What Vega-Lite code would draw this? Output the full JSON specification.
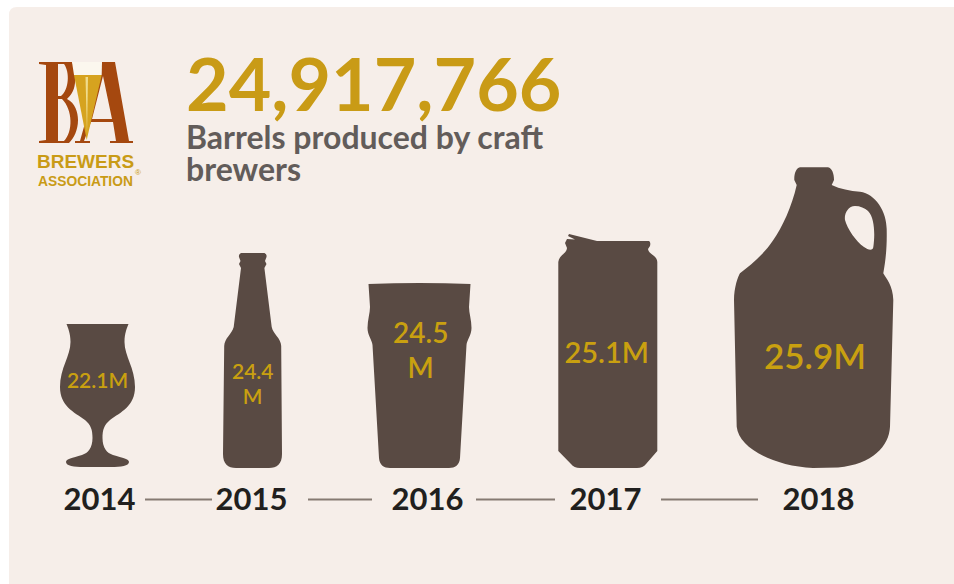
{
  "$schema": "https://vega.github.io/schema/vega-lite/v6.json",
  "width": 954,
  "height": 584,
  "padding": 0,
  "autosize": "none",
  "background": "#ffffff",
  "view": {"stroke": null},
  "title": {
    "text": "24,917,766",
    "subtitle": ["Barrels produced by craft", "brewers"],
    "anchor": "start",
    "frame": "group",
    "dx": 186,
    "dy": 188,
    "offset": 0,
    "font": "Lato",
    "fontSize": 73.5,
    "fontWeight": 700,
    "color": "#c99b16",
    "subtitleFont": "Lato",
    "subtitleFontSize": 32,
    "subtitleFontWeight": 700,
    "subtitleColor": "#625c5a",
    "subtitleLineHeight": 32,
    "subtitlePadding": -2
  },
  "data": {
    "values": [
      {"year": 2014, "value": 22.1, "vessel": "tulip glass"},
      {"year": 2015, "value": 24.4, "vessel": "bottle"},
      {"year": 2016, "value": 24.5, "vessel": "pint"},
      {"year": 2017, "value": 25.1, "vessel": "can"},
      {"year": 2018, "value": 25.9, "vessel": "growler"}
    ]
  },
  "encoding": {
    "x": {
      "field": "year",
      "type": "quantitative",
      "scale": {"domain": [2014, 2015, 2016, 2017, 2018], "range": [99, 251, 427, 605, 818]},
      "axis": {
        "values": [2014, 2015, 2016, 2017, 2018],
        "format": "d",
        "title": null,
        "grid": false,
        "domain": false,
        "ticks": false,
        "offset": -84,
        "zindex": 1,
        "labelPadding": 0,
        "labelBaseline": "middle",
        "labelFont": "Lato",
        "labelFontSize": 31,
        "labelFontWeight": 700,
        "labelColor": "#211f1e",
        "labelFlush": false,
        "labelOverlap": false
      }
    },
    "y": {
      "datum": 0,
      "type": "quantitative",
      "scale": {"domain": [0, 1], "range": [468, 467]},
      "axis": null
    }
  },
  "layer": [
    {
      "description": "Rounded cream panel behind everything",
      "data": {"values": [{"year": 2014, "panel": "background"}]},
      "mark": {"type": "point", "filled": true, "opacity": 1, "size": 4, "color": "#f6eee9"},
      "encoding": {
        "shape": {
          "field": "panel",
          "type": "nominal",
          "legend": null,
          "scale": {"domain": ["background"], "range": ["M -90 -453 Q -90 -461 -82 -461 L 870 -461 L 870 130 L -90 130 Z"]}
        }
      }
    },
    {
      "description": "Brewers Association mark",
      "data": {
        "values": [
          {"year": 2014, "part": "B"},
          {"year": 2014, "part": "A"},
          {"year": 2014, "part": "beer"},
          {"year": 2014, "part": "highlight"},
          {"year": 2014, "part": "foam"}
        ]
      },
      "mark": {"type": "point", "filled": true, "opacity": 1, "size": 4},
      "encoding": {
        "shape": {
          "field": "part",
          "type": "nominal",
          "legend": null,
          "scale": {
            "domain": ["B", "A", "beer", "highlight", "foam"],
            "range": [
              "M -60 -406 L -27 -406 C -24 -400 -23 -392 -24 -385 C -25 -376 -29 -372 -32 -369 C -24 -365 -21 -356 -21 -348 C -21 -338 -25 -330 -30 -325 L -60 -325 L -60 -327 L -53 -328 L -53 -403 L -60 -404 Z M -41 -404 L -41 -372 L -38 -372 C -30 -378 -29 -396 -35 -404 Z M -41 -369 L -41 -327 L -35 -327 C -26 -336 -26 -358 -37 -369 Z",
              "M 3 -406 L 16 -406 L 30 -327 L 34 -327 L 34 -325 L 11 -325 L 11 -327 L 17 -327 L 14 -346 L -8 -346 L -15 -327 L -9 -327 L -9 -325 L -24 -325 L -24 -327 L -19 -327 Z M 4 -392 L -7 -349 L 13 -349 Z",
              "M -25 -393 L 2.7 -393 L -12.3 -328 Z",
              "M -13.5 -391 L -11 -391 L -12 -334 Z",
              "M -27 -406 L 3 -406 L 2.7 -393 L -25 -393 Z"
            ]
          }
        },
        "color": {
          "field": "part",
          "type": "nominal",
          "legend": null,
          "scale": {
            "domain": ["B", "A", "beer", "highlight", "foam"],
            "range": ["#a5480f", "#a5480f", "#d6a31f", "#f0dc8c", "#fbf7ee"]
          }
        }
      }
    },
    {
      "data": {"values": [{"year": 2014, "t": "BREWERS"}]},
      "mark": {"type": "text", "font": "Liberation Sans", "fontWeight": "bold", "fontSize": 19, "color": "#c99b16", "dx": -13.5, "dy": -306, "baseline": "middle", "align": "center"},
      "encoding": {"text": {"field": "t"}}
    },
    {
      "data": {"values": [{"year": 2014, "t": "ASSOCIATION"}]},
      "mark": {"type": "text", "font": "Liberation Sans", "fontWeight": "bold", "fontSize": 13.8, "color": "#c99b16", "dx": -13.5, "dy": -286, "baseline": "middle", "align": "center"},
      "encoding": {"text": {"field": "t"}}
    },
    {
      "data": {"values": [{"year": 2014, "t": "®"}]},
      "mark": {"type": "text", "font": "Liberation Sans", "fontSize": 8, "color": "#c99b16", "dx": 39, "dy": -295, "baseline": "middle", "align": "center"},
      "encoding": {"text": {"field": "t"}}
    },
    {
      "description": "Rules joining neighbouring year labels",
      "transform": [{"filter": "datum.year < 2018"}],
      "mark": {"type": "point", "filled": true, "opacity": 1, "size": 4, "color": "#857a72"},
      "encoding": {
        "shape": {
          "field": "year",
          "type": "nominal",
          "legend": null,
          "scale": {
            "domain": [2014, 2015, 2016, 2017],
            "range": [
              "M 46 30.5 L 113 30.5 L 113 32.5 L 46 32.5 Z",
              "M 57 30.5 L 121 30.5 L 121 32.5 L 57 32.5 Z",
              "M 49 30.5 L 128 30.5 L 128 32.5 L 49 32.5 Z",
              "M 56 30.5 L 153 30.5 L 153 32.5 L 56 32.5 Z"
            ]
          }
        }
      }
    },
    {
      "description": "One drinking vessel per year",
      "mark": {"type": "point", "filled": true, "opacity": 1, "size": 4, "color": "#594a43"},
      "encoding": {
        "shape": {
          "field": "vessel",
          "type": "nominal",
          "legend": null,
          "scale": {
            "domain": ["tulip glass", "bottle", "pint", "can", "growler"],
            "range": [
              "M -32.5 -144 L 29.5 -144 C 28 -140 25.5 -135 25.5 -126 C 25.5 -112 36 -100 36 -81 C 36 -62 22 -56 11 -48 C 5 -43 3.5 -38 3.5 -30 C 3.5 -20 8 -15 14 -13 C 24 -10 30 -9 30 -6 C 30 -2 22 -1 12 -1 L -15 -1 C -25 -1 -33 -2 -33 -6 C -33 -9 -27 -10 -17 -13 C -11 -15 -6.5 -20 -6.5 -30 C -6.5 -38 -8 -43 -14 -48 C -25 -56 -39 -62 -39 -81 C -39 -100 -28.5 -112 -28.5 -126 C -28.5 -135 -31 -140 -32.5 -144 Z",
              "M -10 -215 L 13.5 -215 Q 16 -214 15.5 -211 L 14 -207 L 15.5 -204 L 13.4 -200 L 20.7 -141 C 22 -134 30 -130 30.2 -122 L 31 -14 C 31 -4 26 0 18 0 L -15 0 C -23 0 -28 -4 -28 -14 L -26.8 -122 C -26.5 -130 -19 -134 -17.3 -141 L -10 -200 L -12 -204 L -10.5 -207 L -12 -211 Q -12.5 -214 -10 -215 Z",
              "M -58.5 -184 Q -7.5 -186 43.5 -184 L 42 -161 C 42 -155 44.5 -148 44.5 -140 C 44.5 -133 40 -128 39.5 -123 L 33 -10 C 32.5 -3 28 0 22 0 L -37 0 C -43 0 -47.5 -3 -48 -10 L -54.5 -123 C -55 -128 -59.5 -133 -59.5 -140 C -59.5 -148 -57 -155 -57 -161 Z",
              "M -36 -234 L -8 -227 L 44 -227 Q 46 -226 45 -222 L 43 -219 C 44 -213 52 -213 52.3 -206 L 52.3 -17 L 41 -4 Q 38 0 32 0 L -25 0 Q -31 0 -34 -4 L -46.7 -17 L -46.7 -206 C -46 -213 -38.5 -214 -38 -220 L -40 -225 L -38 -229 L -30 -228.5 L -37 -232 Z",
              "M -18 -300.7 L 10 -300.7 C 14 -300 16 -294 16 -288 L 13.7 -283 C 22 -279 32 -277 42 -276.3 C 58 -274 69 -256 68.7 -238 C 69 -222 68 -210 65.3 -194.7 C 68 -190 75 -182 75.3 -168 L 72 -41.3 C 71 -22 55 -4 20 -0.5 L -5 0 C -45 -2 -79 -20 -81.3 -41.3 L -84 -168 C -84 -180 -80 -192 -78 -194.7 C -66 -204 -54 -214 -44.7 -228 C -36 -240 -26 -262 -21.3 -283 L -23.7 -288 C -24 -294 -22 -300 -18 -300.7 Z M 37 -262 C 30 -262 26 -254 27 -248 C 29 -240 38 -226 46 -221 C 50 -218 55 -217 55.3 -221 C 57 -232 57 -250 50 -257 C 47 -260 42 -262 37 -262 Z"
            ]
          }
        }
      }
    },
    {
      "transform": [{"filter": "datum.year === 2014"}, {"calculate": "format(datum.value, '.1f') + 'M'", "as": "label"}],
      "mark": {"type": "text", "font": "Lato", "fontWeight": 600, "fontSize": 21, "color": "#c9a010", "baseline": "middle", "dx": -1.5, "dy": -86},
      "encoding": {"text": {"field": "label"}}
    },
    {
      "transform": [{"filter": "datum.year === 2015"}, {"calculate": "format(datum.value, '.1f') + '\\nM'", "as": "label"}],
      "mark": {"type": "text", "font": "Lato", "fontWeight": 600, "fontSize": 21, "lineBreak": "\n", "lineHeight": 25, "color": "#c9a010", "baseline": "middle", "dx": 1.7, "dy": -95},
      "encoding": {"text": {"field": "label"}}
    },
    {
      "transform": [{"filter": "datum.year === 2016"}, {"calculate": "format(datum.value, '.1f') + '\\nM'", "as": "label"}],
      "mark": {"type": "text", "font": "Lato", "fontWeight": 600, "fontSize": 28, "lineBreak": "\n", "lineHeight": 35, "color": "#c9a010", "baseline": "middle", "dx": -6.3, "dy": -133},
      "encoding": {"text": {"field": "label"}}
    },
    {
      "transform": [{"filter": "datum.year === 2017"}, {"calculate": "format(datum.value, '.1f') + 'M'", "as": "label"}],
      "mark": {"type": "text", "font": "Lato", "fontWeight": 600, "fontSize": 29, "color": "#c9a010", "baseline": "middle", "dx": 1.7, "dy": -113.7},
      "encoding": {"text": {"field": "label"}}
    },
    {
      "transform": [{"filter": "datum.year === 2018"}, {"calculate": "format(datum.value, '.1f') + 'M'", "as": "label"}],
      "mark": {"type": "text", "font": "Lato", "fontWeight": 600, "fontSize": 35, "color": "#c9a010", "baseline": "middle", "dx": -3, "dy": -110},
      "encoding": {"text": {"field": "label"}}
    }
  ],
  "resolve": {"scale": {"shape": "independent", "color": "independent"}}
}
